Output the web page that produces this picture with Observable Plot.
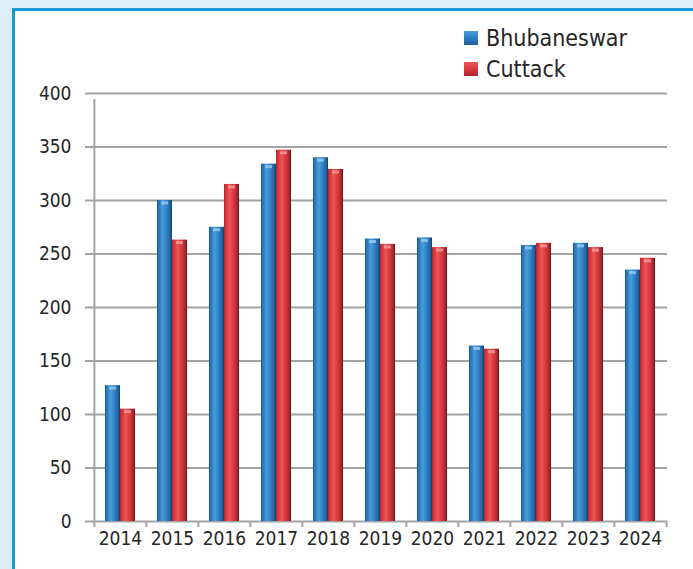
<!DOCTYPE html>
<html>
<head>
<meta charset="utf-8">
<script src="https://cdn.jsdelivr.net/npm/d3@7"></script>
<script src="https://cdn.jsdelivr.net/npm/@observablehq/plot@0.6"></script>
<style>
  html, body { margin: 0; padding: 0; width: 693px; height: 569px; overflow: hidden; background: #dceff8; }
  #panel { position: absolute; left: 12px; top: 8px; width: 678px; height: 600px; background: #fff;
           border-left: 3px solid #1c9ad6; border-top: 3px solid #1c9ad6; border-right: 3px solid #1c9ad6; }
  #chart { position: absolute; left: 0; top: 0; }
  #legend { position: absolute; left: 464px; top: 22px; font-family: "DejaVu Sans Condensed", "DejaVu Sans", sans-serif;
            font-stretch: condensed; font-size: 23px; color: #262626; }
  .item { display: flex; align-items: center; height: 31px; }
  .sw { width: 14px; height: 14px; margin-right: 8px; }
</style>
</head>
<body>
<div id="panel"></div>
<div id="chart"></div>
<div id="legend"></div>
<script>
const years = ["2014","2015","2016","2017","2018","2019","2020","2021","2022","2023","2024"];
const seriesNames = ["Bhubaneswar", "Cuttack"];
const bhubaneswar = [127, 300, 275, 334, 340, 264, 265, 164, 258, 260, 235];
const cuttack     = [105, 263, 315, 347, 329, 259, 256, 161, 260, 256, 246];
const yTicks = [0, 50, 100, 150, 200, 250, 300, 350, 400];

const W = 693, H = 569;
const mL = 92, mR = 26, mT = 93, mB = 48;
const step = (W - mL - mR) / years.length;
const padIn = 0.426;
const bw = step * (1 - padIn);

const dataB = years.map((y, i) => ({year: y, value: bhubaneswar[i]}));
const dataC = years.map((y, i) => ({year: y, value: cuttack[i]}));

const font = '"DejaVu Sans Condensed", "DejaVu Sans", sans-serif';
const gridColor = "#a3a3a3";

const chart = Plot.plot({
  width: W, height: H,
  marginLeft: mL, marginRight: mR, marginTop: mT, marginBottom: mB,
  style: {fontFamily: font, fontStretch: "condensed", fontSize: "19px", color: "#262626", background: "transparent", overflow: "visible"},
  x: {type: "band", domain: years, paddingInner: padIn, paddingOuter: padIn / 2, axis: null},
  y: {domain: [0, 400], axis: null},
  marks: [
    Plot.ruleY(yTicks, {y: d => d, stroke: gridColor, strokeWidth: 2, insetLeft: -7}),
    Plot.ruleX(years, {x: d => d, dx: -step / 2, y1: 0, y2: 0, insetBottom: -6, stroke: gridColor, strokeWidth: 2}),
    Plot.ruleX([years[years.length - 1]], {x: d => d, dx: step / 2, y1: 0, y2: 0, insetBottom: -6, stroke: gridColor, strokeWidth: 2}),
    Plot.ruleX([years[0]], {x: d => d, dx: -step / 2, y1: 0, y2: 400, insetBottom: -6, stroke: gridColor, strokeWidth: 2}),
    Plot.barY(dataB, {x: "year", y: "value", fill: "url(#gB)", insetRight: bw / 2}),
    Plot.barY(dataC, {x: "year", y: "value", fill: "url(#gC)", insetLeft: bw / 2}),
    Plot.tickY(dataB, {x: "year", y: "value", dy: 2.5, stroke: "#9fd0f3", strokeOpacity: 0.75, strokeWidth: 3, insetLeft: 4, insetRight: bw / 2 + 4}),
    Plot.tickY(dataC, {x: "year", y: "value", dy: 2.5, stroke: "#f6a3a4", strokeOpacity: 0.75, strokeWidth: 3, insetLeft: bw / 2 + 4, insetRight: 4}),
    Plot.text(yTicks, {frameAnchor: "left", y: d => d, text: d => String(d), textAnchor: "end", dx: -21, fontSize: 19, fill: "#262626"}),
    Plot.text(years, {x: d => d, y: 0, text: d => d, dy: 17, lineAnchor: "middle", fontSize: 19, fill: "#262626"})
  ]
});

const svg = d3.select(chart);
const defs = svg.insert("defs", ":first-child");
function grad(id, stops) {
  const g = defs.append("linearGradient").attr("id", id).attr("x1", "0%").attr("x2", "100%").attr("y1", "0%").attr("y2", "0%");
  stops.forEach(([o, c]) => g.append("stop").attr("offset", o).attr("stop-color", c));
}
grad("gB", [["0%", "#1a5590"], ["12%", "#2a77bc"], ["38%", "#4a9bdb"], ["60%", "#3486c9"], ["88%", "#22639f"], ["100%", "#163c62"]]);
grad("gC", [["0%", "#a5272c"], ["12%", "#d2353a"], ["38%", "#ec5659"], ["60%", "#db3c40"], ["88%", "#ad282c"], ["100%", "#5a1315"]]);

document.getElementById("chart").appendChild(chart);

const legend = document.getElementById("legend");
const swatches = [
  "linear-gradient(to bottom, #4a9bdb, #2a77bc 60%, #1f5f9c)",
  "linear-gradient(to bottom, #ec5659, #d2353a 60%, #a5272c)"
];
seriesNames.forEach((name, i) => {
  const item = document.createElement("div");
  item.className = "item";
  const sw = document.createElement("div");
  sw.className = "sw";
  sw.style.background = swatches[i];
  const label = document.createElement("span");
  label.textContent = name;
  item.appendChild(sw);
  item.appendChild(label);
  legend.appendChild(item);
});
</script>
</body>
</html>
